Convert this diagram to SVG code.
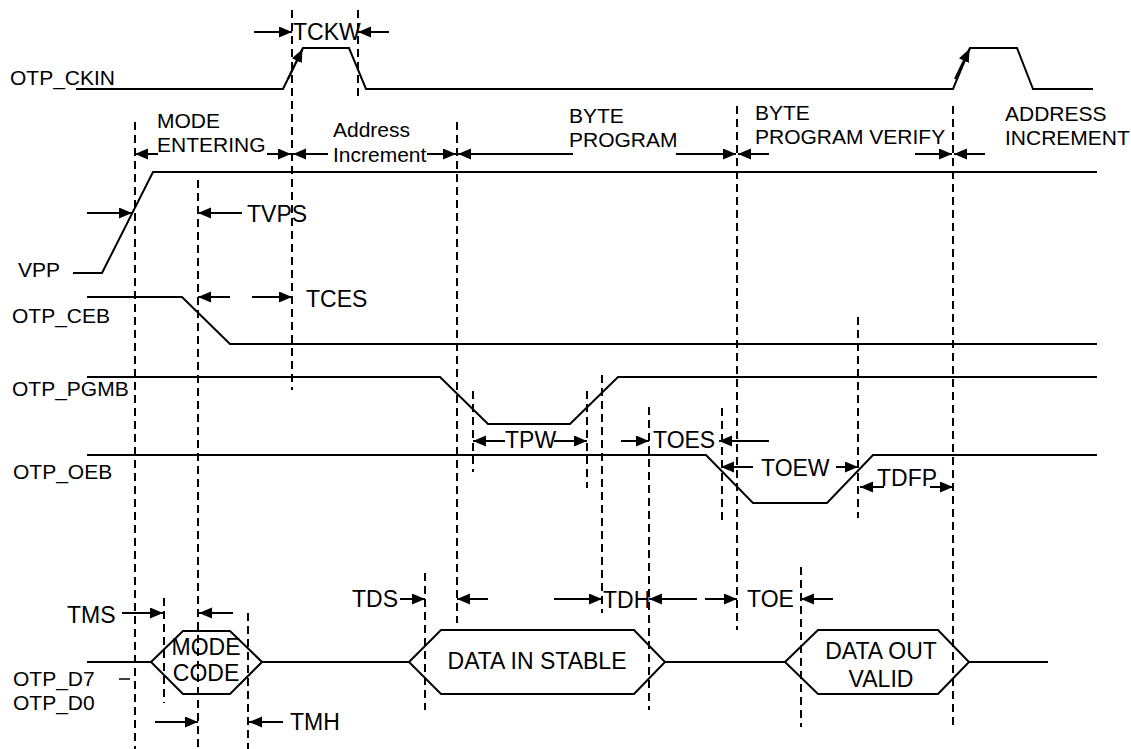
<svg xmlns="http://www.w3.org/2000/svg" width="1131" height="749" viewBox="0 0 1131 749">
<style>
text{font-family:"Liberation Sans",Arial,sans-serif;fill:#000}
.lbl{font-size:21px}
.tm{font-size:23px}
.box{font-size:23px;text-anchor:middle}
.sig{fill:none;stroke:#000;stroke-width:2}
.dash{stroke:#000;stroke-width:2;stroke-dasharray:8 5;fill:none}
.arr{stroke:#000;stroke-width:2;fill:none;marker-end:url(#ah)}
</style>
<defs>
<marker id="ah" markerUnits="userSpaceOnUse" markerWidth="14" markerHeight="12" refX="13" refY="5.5" orient="auto"><path d="M0,0 L13,5.5 L0,11 z" fill="#000"/></marker>
</defs>
<rect width="1131" height="749" fill="#fff"/>

<g id="guides">
<line class="dash" x1="135" y1="122" x2="135" y2="749"/>
<line class="dash" x1="198" y1="180" x2="198" y2="749"/>
<line class="dash" x1="248" y1="613" x2="248" y2="749"/>
<line class="dash" x1="164" y1="598" x2="164" y2="703"/>
<line class="dash" x1="292" y1="10" x2="292" y2="390"/>
<line class="dash" x1="358" y1="10" x2="358" y2="100"/>
<line class="dash" x1="457" y1="122" x2="457" y2="623"/>
<line class="dash" x1="425" y1="573" x2="425" y2="710"/>
<line class="dash" x1="473" y1="391" x2="473" y2="472"/>
<line class="dash" x1="587" y1="391" x2="587" y2="488"/>
<line class="dash" x1="602" y1="375" x2="602" y2="613"/>
<line class="dash" x1="649" y1="407" x2="649" y2="710"/>
<line class="dash" x1="722" y1="408" x2="722" y2="520"/>
<line class="dash" x1="737" y1="106" x2="737" y2="630"/>
<line class="dash" x1="801" y1="567" x2="801" y2="727"/>
<line class="dash" x1="858" y1="317" x2="858" y2="518"/>
<line class="dash" x1="953" y1="106" x2="953" y2="725"/>
</g>

<g id="otp_ckin">
<text class="lbl" x="10" y="85">OTP_CKIN</text>
<polyline class="sig" points="76,89 283,89 303,48 349,48 366,89 953,89 970,48 1017,48 1033,89 1093,89"/>
</g>
<g id="vpp">
<text class="lbl" x="18" y="277">VPP</text>
<polyline class="sig" points="73,273 102,273 153,172 1097,172"/>
</g>
<g id="otp_ceb">
<text class="lbl" x="12" y="323">OTP_CEB</text>
<polyline class="sig" points="87,297 182,297 230,344 1097,344"/>
</g>
<g id="otp_pgmb">
<text class="lbl" x="12" y="396">OTP_PGMB</text>
<polyline class="sig" points="87,377 440,377 488,424 570,424 618,377 1097,377"/>
</g>
<g id="otp_oeb">
<text class="lbl" x="13" y="479">OTP_OEB</text>
<polyline class="sig" points="87,455 706,455 753,503 827,503 873,455 1097,455"/>
</g>
<g id="otp_data">
<text class="lbl" x="13" y="686">OTP_D7</text>
<line x1="119" y1="679" x2="130" y2="679" stroke="#000" stroke-width="1.5"/>
<text class="lbl" x="13" y="710">OTP_D0</text>
<line class="sig" x1="87" y1="662" x2="151" y2="662"/>
<line class="sig" x1="262" y1="662" x2="409" y2="662"/>
<line class="sig" x1="665" y1="662" x2="785" y2="662"/>
<line class="sig" x1="969" y1="662" x2="1048" y2="662"/>
</g>
<g id="mode_code">
<polygon class="sig" points="151,662 183,631 230,631 262,662 230,694 183,694"/>
<text class="box" x="206" y="655">MODE</text>
<text class="box" x="206" y="681">CODE</text>
</g>
<g id="data_in_stable">
<polygon class="sig" points="409,662 441,630 634,630 665,662 634,694 441,694"/>
<text class="box" x="537" y="669">DATA IN STABLE</text>
</g>
<g id="data_out_valid">
<polygon class="sig" points="785,662 818,630 938,630 969,662 938,694 818,694"/>
<text class="box" x="881" y="659">DATA OUT</text>
<text class="box" x="881" y="687">VALID</text>
</g>

<g id="phase_labels">
<text class="lbl" x="157" y="128">MODE</text>
<text class="lbl" x="157" y="152">ENTERING</text>
<text class="lbl" x="333" y="137">Address</text>
<text class="lbl" x="333" y="162">Increment</text>
<text class="lbl" x="569" y="123">BYTE</text>
<text class="lbl" x="569" y="147">PROGRAM</text>
<text class="lbl" x="755" y="120">BYTE</text>
<text class="lbl" x="755" y="144">PROGRAM VERIFY</text>
<text class="lbl" x="1005" y="121">ADDRESS</text>
<text class="lbl" x="1005" y="145">INCREMENT</text>
</g>

<g id="timing_labels">
<text class="tm" x="293" y="40">TCKW</text>
<text class="tm" x="247" y="222">TVPS</text>
<text class="tm" x="306" y="307">TCES</text>
<text class="tm" x="505" y="448">TPW</text>
<text class="tm" x="653" y="448">TOES</text>
<text class="tm" x="761" y="476">TOEW</text>
<text class="tm" x="877" y="486">TDFP</text>
<text class="tm" x="67" y="623">TMS</text>
<text class="tm" x="352" y="607">TDS</text>
<text class="tm" x="603" y="608">TDH</text>
<text class="tm" x="747" y="607">TOE</text>
<text class="tm" x="290" y="730">TMH</text>
</g>

<g id="connectors">
<line class="arr" x1="288" y1="79" x2="302.5" y2="49"/>
<line class="arr" x1="955" y1="79" x2="969.5" y2="49"/>
<line class="arr" x1="254" y1="32" x2="292" y2="32"/>
<line class="arr" x1="389" y1="32" x2="358" y2="32"/>
<line class="arr" x1="158" y1="154" x2="135" y2="154"/>
<line class="arr" x1="267" y1="154" x2="291" y2="154"/>
<line class="arr" x1="328" y1="154" x2="293" y2="154"/>
<line class="arr" x1="427" y1="154" x2="456" y2="154"/>
<line class="arr" x1="573" y1="154" x2="458" y2="154"/>
<line class="arr" x1="676" y1="154" x2="736" y2="154"/>
<line class="arr" x1="769" y1="154" x2="738" y2="154"/>
<line class="arr" x1="915" y1="154" x2="952" y2="154"/>
<line class="arr" x1="985" y1="154" x2="954" y2="154"/>
<line class="arr" x1="87" y1="213" x2="132" y2="213"/>
<line class="arr" x1="242" y1="213" x2="198" y2="213"/>
<line class="arr" x1="230" y1="297" x2="198" y2="297"/>
<line class="arr" x1="252" y1="297" x2="292" y2="297"/>
<line class="arr" x1="505" y1="441" x2="473" y2="441"/>
<line class="arr" x1="554" y1="441" x2="587" y2="441"/>
<line class="arr" x1="621" y1="441" x2="649" y2="441"/>
<line class="arr" x1="769" y1="441" x2="719" y2="441"/>
<line class="arr" x1="753" y1="467" x2="721" y2="467"/>
<line class="arr" x1="836" y1="467" x2="858" y2="467"/>
<line class="arr" x1="884" y1="487" x2="860" y2="487"/>
<line class="arr" x1="930" y1="487" x2="953" y2="487"/>
<line class="arr" x1="122" y1="613" x2="163" y2="613"/>
<line class="arr" x1="233" y1="613" x2="199" y2="613"/>
<line class="arr" x1="155" y1="722" x2="198" y2="722"/>
<line class="arr" x1="283" y1="722" x2="249" y2="722"/>
<line class="arr" x1="400" y1="599" x2="425" y2="599"/>
<line class="arr" x1="488" y1="599" x2="457" y2="599"/>
<line class="arr" x1="554" y1="599" x2="602" y2="599"/>
<line class="arr" x1="697" y1="599" x2="649" y2="599"/>
<line class="arr" x1="705" y1="599" x2="737" y2="599"/>
<line class="arr" x1="833" y1="599" x2="801" y2="599"/>
</g>
</svg>
